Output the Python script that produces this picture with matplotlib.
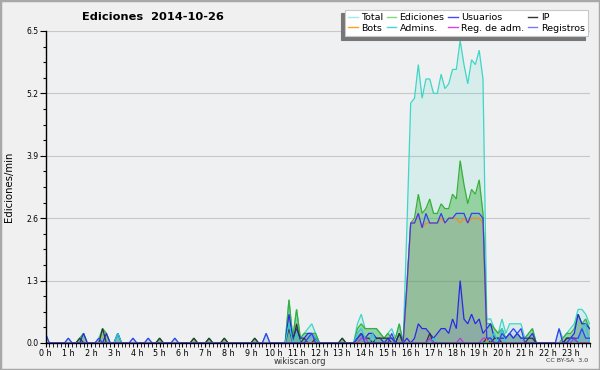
import matplotlib
matplotlib.use('Agg')
import matplotlib.pyplot as plt
import numpy as np
from matplotlib.lines import Line2D
from matplotlib.patches import Rectangle

# ---------------- data (edits per minute, 10-minute bins) ----------------
total = [
 0.2,0,0,0,0,0, 0.1,0,0,0.1,0.2,0, 0,0,0.1,0.3,0.2,0, 0,0.2,0,0,0,0.1,
 0,0,0,0.1,0,0, 0.1,0,0,0,0.1,0, 0,0,0,0.1,0,0, 0,0.1,0,0,0,0.1,
 0,0,0,0,0,0, 0,0.1,0,0,0.2,0, 0,0,0,0,0.9,0.1, 0.7,0.1,0.2,0.3,0.4,0.2,
 0,0,0,0,0,0, 0.1,0,0,0,0.4,0.6, 0.3,0.3,0.3,0.3,0.2,0.1, 0.2,0.3,0.1,0.4,0,2.4,
 5.0,5.1,5.8,5.1,5.5,5.5, 5.2,5.2,5.6,5.3,5.4,5.7, 5.7,6.3,5.8,5.4,5.9,5.8, 6.1,5.5,0.5,0.5,0.3,0.2,
 0.5,0.2,0.4,0.4,0.4,0.4, 0.1,0.2,0.3,0,0,0, 0,0,0,0.3,0.1,0.2, 0.3,0.4,0.7,0.7,0.6,0.4]
ediciones = [
 0,0,0,0,0,0, 0,0,0,0.1,0.2,0, 0,0,0,0.3,0.2,0, 0,0.2,0,0,0,0,
 0,0,0,0,0,0, 0.1,0,0,0,0,0, 0,0,0,0.1,0,0, 0,0.1,0,0,0,0.1,
 0,0,0,0,0,0, 0,0.1,0,0,0,0, 0,0,0,0,0.9,0.1, 0.7,0.1,0.2,0.2,0.2,0.2,
 0,0,0,0,0,0, 0.1,0,0,0,0.3,0.4, 0.3,0.3,0.3,0.3,0.2,0.1, 0.2,0.1,0.1,0.4,0,1.2,
 2.5,2.6,3.1,2.7,2.8,3.0, 2.7,2.7,2.9,2.8,2.8,3.1, 3.0,3.8,3.3,2.9,3.2,3.1, 3.4,2.7,0.4,0.4,0.3,0.2,
 0.3,0.1,0.2,0.1,0.2,0.1, 0.1,0.2,0.3,0,0,0, 0,0,0,0,0.1,0.2, 0.2,0.3,0.6,0.4,0.5,0.3]
usuarios = [
 0,0,0,0,0,0, 0,0,0,0,0.2,0, 0,0,0,0,0.2,0, 0,0.2,0,0,0,0,
 0,0,0,0,0,0, 0,0,0,0,0,0, 0,0,0,0,0,0, 0,0,0,0,0,0,
 0,0,0,0,0,0, 0,0,0,0,0,0, 0,0,0,0,0.6,0.1, 0.3,0.1,0.1,0.2,0.2,0.1,
 0,0,0,0,0,0, 0,0,0,0,0.1,0.2, 0.1,0.2,0.2,0.1,0.1,0, 0.1,0.1,0,0.2,0,0.1,
 0,0.1,0.4,0.3,0.3,0.2, 0.1,0.2,0.3,0.3,0.2,0.5, 0.3,1.3,0.5,0.4,0.6,0.4, 0.5,0.2,0.3,0.4,0.1,0.1,
 0.1,0.1,0.2,0.1,0.2,0.1, 0.1,0.1,0.2,0,0,0, 0,0,0,0,0,0.1, 0.1,0.2,0.6,0.4,0.4,0.3]
ip = [
 0,0,0,0,0,0, 0,0,0,0.1,0,0, 0,0,0,0.3,0,0, 0,0,0,0,0,0,
 0,0,0,0,0,0, 0.1,0,0,0,0,0, 0,0,0,0.1,0,0, 0,0.1,0,0,0,0.1,
 0,0,0,0,0,0, 0,0.1,0,0,0,0, 0,0,0,0,0.3,0, 0.4,0,0.1,0,0,0.1,
 0,0,0,0,0,0, 0.1,0,0,0,0.1,0.2, 0.1,0.1,0,0.1,0.1,0.1, 0.1,0,0,0.2,0,0,
 0,0,0,0,0,0.2, 0,0,0,0,0,0, 0,0,0,0,0,0, 0,0,0.1,0,0.1,0.1,
 0,0,0,0,0,0, 0,0.1,0.1,0,0,0, 0,0,0,0,0,0.1, 0.1,0.1,0,0,0,0]
bots = [0]*95 + [
 1.1,
 2.5,2.5,2.7,2.4,2.5,2.5, 2.5,2.5,2.6,2.5,2.6,2.6, 2.6,2.5,2.6,2.5,2.6,2.6, 2.6,2.5] + [0]*28
admins = [
 0,0,0,0,0,0, 0,0,0,0,0,0, 0,0,0,0,0,0, 0,0.2,0,0,0,0,
 0,0,0,0,0,0, 0,0,0,0,0,0, 0,0,0,0,0,0, 0,0,0,0,0,0,
 0,0,0,0,0,0, 0,0,0,0,0,0, 0,0,0,0,0.4,0, 0.2,0,0,0.1,0.2,0.1,
 0,0,0,0,0,0, 0,0,0,0,0.2,0.3, 0.1,0,0.2,0,0,0, 0,0,0,0,0,0,
 0,0,0,0,0,0, 0.1,0,0,0,0,0, 0,0,0,0,0,0, 0,0,0,0.1,0.2,0,
 0.3,0,0,0,0,0, 0,0,0,0,0,0, 0,0,0,0,0,0, 0.1,0,0,0.3,0.4,0]
reg_adm = [0]*83 + [0.1,0.1] + [0]*16 + [0.1] + [0]*7 + [0.1] + [0]*5 + [0.1,0.1,0.1] + [0]*21 + [0.1] + [0]*4
registros = [
 0.2,0,0,0,0,0, 0.1,0,0,0,0,0, 0,0,0.1,0,0,0, 0,0,0,0,0,0.1,
 0,0,0,0.1,0,0, 0,0,0,0,0.1,0, 0,0,0,0,0,0, 0,0,0,0,0,0,
 0,0,0,0,0,0, 0,0,0,0,0.2,0, 0,0,0,0,0,0, 0,0,0,0.1,0.2,0,
 0,0,0,0,0,0, 0,0,0,0,0.1,0.2, 0,0,0,0,0,0, 0,0.2,0,0,0,1.2,
 2.5,2.5,2.7,2.4,2.7,2.5, 2.5,2.5,2.7,2.5,2.6,2.6, 2.7,2.7,2.7,2.5,2.7,2.7, 2.7,2.6,0.1,0.1,0,0,
 0.2,0.1,0.2,0.3,0.2,0.3, 0,0,0,0,0,0, 0,0,0,0.3,0,0, 0.1,0.1,0.1,0.3,0.1,0.1]

series_names = ['Total', 'Ediciones', 'Usuarios', 'IP', 'Bots', 'Admins.', 'Reg. de adm.', 'Registros']
hour_labels = ['%d h' % h for h in range(24)]
yticks = [0.0, 1.3, 2.6, 3.9, 5.2, 6.5]

series = [total, ediciones, usuarios, ip, bots, admins, reg_adm, registros]
line_colors = ['#3ed6c6', '#3aae3a', '#2a2ae6', '#333333', '#f09020', '#2ec8dc', '#b040d8', '#3c3cf0']
fill_colors = ['#44ddcc', '#33aa33', '#3333ee', '#333333', '#ff9900', '#33ccdd', '#cc33cc', '#4444ff']
fill_alpha = [0.14, 0.40, 0.12, 0.12, 0.10, 0.12, 0.12, 0.10]
legend_colors = ['#a0ece4', '#80d880', '#4848ff', '#333333', '#ffa020', '#40d8e8', '#e040e0', '#7878ff']

# ---------------- figure ----------------
fig = plt.figure(figsize=(6.0, 3.7), dpi=100)
fig.patch.set_facecolor('#f0f0f0')
ax = fig.add_axes([45.5/600, 27/370, 544/600, 312/370])
ax.set_facecolor('#eef0f2')

x = np.arange(len(total)) / 6.0
for vals, fc, fa in zip(series, fill_colors, fill_alpha):
    ax.fill_between(x, 0, vals, color=fc, alpha=fa, lw=0)
for vals, lc in zip(series, line_colors):
    ax.plot(x, vals, color=lc, lw=0.9, solid_joinstyle='miter')

ax.set_xlim(0, x[-1])
ax.set_ylim(0, 6.5)
ax.set_yticks(yticks)
ax.set_yticklabels(['%.1f' % v for v in yticks], fontsize=5.5)
ax.set_yticks(np.arange(0, 6.5, 0.325), minor=True)
ax.set_xticks(np.arange(24))
ax.set_xticklabels(hour_labels, fontsize=5.8)
ax.set_xticks(x, minor=True)
ax.tick_params(axis='y', which='major', length=4, width=0.8, pad=1)
ax.tick_params(axis='y', which='minor', length=2, width=0.8)
ax.tick_params(axis='x', which='major', length=3, width=0.8, pad=1)
ax.tick_params(axis='x', which='minor', length=3, width=0.6)
for s in ['top', 'right']:
    ax.spines[s].set_visible(False)
for s in ['left', 'bottom']:
    ax.spines[s].set_linewidth(1.0)
ax.grid(axis='y', which='major', color='#c8c8c8', lw=0.8)
ax.set_axisbelow(True)

ax.set_ylabel('Ediciones/min', fontsize=7.3)
ax.yaxis.set_label_coords(-31/544, 0.5)
fig.text(153/600, 1 - 17/370, 'Ediciones  2014-10-26', fontsize=8.2, fontweight='bold',
         ha='center', va='center')
fig.text(300/600, 1 - 361/370, 'wikiscan.org', fontsize=6, ha='center', va='center', color='#333333')
fig.text(588/600, 1 - 361/370, 'CC BY-SA  3.0', fontsize=4.5, ha='right', va='center', color='#333333')

handles = [Line2D([], [], color=c, lw=1) for c in legend_colors]
order = [0, 4, 1, 5, 2, 6, 3, 7]
leg = fig.legend([handles[i] for i in order], [series_names[i] for i in order],
                 ncol=4, loc='upper right', bbox_to_anchor=(588/600, 1 - 10/370),
                 fontsize=6.8, frameon=True, fancybox=False,
                 shadow={'ox': -2.5, 'oy': -2.5, 'color': '#777777', 'alpha': 1},
                 handlelength=1.0, handletextpad=0.35, columnspacing=0.4,
                 labelspacing=0.15, borderpad=0.35, borderaxespad=0)
leg.get_frame().set_edgecolor('#c8c8c8')
leg.get_frame().set_linewidth(0.8)
leg.get_frame().set_facecolor('white')
leg.get_frame().set_alpha(1)

fig.add_artist(Rectangle((0, 0), 1, 1, transform=fig.transFigure, fill=False,
                         edgecolor='#a8a8a8', lw=2.5))
fig.savefig('out.png', dpi=100, facecolor=fig.get_facecolor())
